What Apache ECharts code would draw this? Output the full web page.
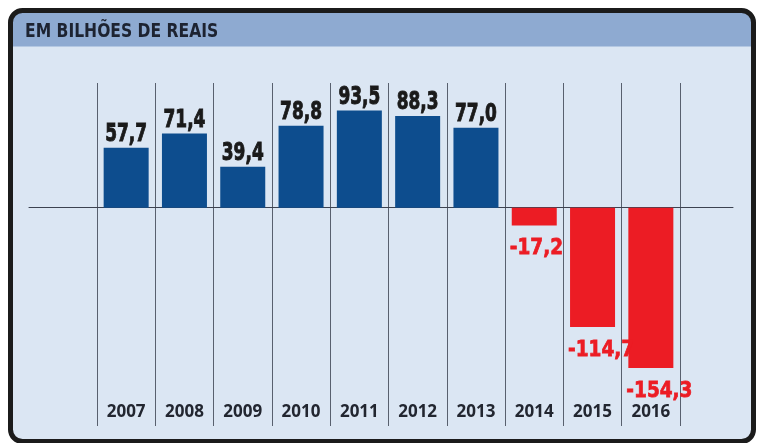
<!DOCTYPE html>
<html>
<head>
<meta charset="utf-8">
<script src="https://cdn.jsdelivr.net/npm/echarts@6/dist/echarts.min.js"></script>
<style>
html,body{margin:0;padding:0;background:#ffffff;}
#chart{width:758px;height:443px;}
</style>
</head>
<body>
<div id="chart"></div>
<script>
const title = 'EM BILHÕES DE REAIS';
const years = ['2007','2008','2009','2010','2011','2012','2013','2014','2015','2016'];
const values = [57.7, 71.4, 39.4, 78.8, 93.5, 88.3, 77.0, -17.2, -114.7, -154.3];

const BLUE = '#0d4d8e';
const RED = '#ec1c24';
const BAR_W = 45;
const fmt = v => v.toFixed(1).replace('.', ',');

const chart = echarts.init(document.getElementById('chart'), null, {renderer: 'canvas'});

const barData = values.map(v => ({value: v, itemStyle: {color: v < 0 ? RED : BLUE}}));
const labelData = values.map((v, i) => [i, v]);

function renderLabel(params, api) {
  const v = api.value(1);
  const pt = api.coord([api.value(0), v]);
  if (v >= 0) {
    return {
      type: 'text', x: pt[0], y: pt[1] - 1, scaleX: 0.68,
      style: {text: fmt(v), fill: '#1a1a1a', stroke: '#1a1a1a', lineWidth: 1,
        align: 'center', verticalAlign: 'bottom',
        font: "bold 25px 'DejaVu Sans', sans-serif"}
    };
  }
  return {
    type: 'text', x: pt[0] - BAR_W / 2 - 2, y: pt[1] + 12, scaleX: 0.84,
    style: {text: fmt(v), fill: RED, stroke: RED, lineWidth: 0.8,
      align: 'left', verticalAlign: 'top',
      font: "bold 22px 'DejaVu Sans', sans-serif"}
  };
}

chart.setOption({
  animation: false,
  backgroundColor: '#ffffff',
  graphic: [
    {type: 'rect', z: -10, silent: true,
      shape: {x: 10.5, y: 10.5, width: 743, height: 431, r: 12},
      style: {fill: '#dbe6f3', stroke: null}},
    {type: 'rect', z: -9, silent: true,
      shape: {x: 10.5, y: 10.5, width: 743, height: 36, r: [12, 12, 0, 0]},
      style: {fill: '#8eaad1'}},
    {type: 'rect', z: 100, silent: true,
      shape: {x: 10.5, y: 10.5, width: 743, height: 431, r: 12},
      style: {fill: null, stroke: '#1b1b1b', lineWidth: 5}},
    {type: 'text', z: 101, silent: true, x: 25, y: 32, scaleX: 0.865,
      style: {text: title, fill: '#1d2331', align: 'left', verticalAlign: 'middle',
        font: "bold 20px 'DejaVu Sans Condensed', 'DejaVu Sans', sans-serif"}}
  ],
  grid: [
    {left: 97, right: 78, top: 83, height: 343},
    {left: 29, right: 25, top: 83, height: 343}
  ],
  xAxis: [
    {type: 'category', gridIndex: 0, data: years, boundaryGap: true,
      axisLine: {show: false, onZero: false},
      axisTick: {show: false},
      splitLine: {show: true, interval: 0, lineStyle: {color: '#58606e', width: 1}},
      axisLabel: {inside: true, margin: 5, interval: 0, color: '#222630',
        fontFamily: "'Open Sans', sans-serif", fontWeight: 'bold', fontSize: 17}},
    {type: 'value', gridIndex: 1, min: 0, max: 1, show: true,
      axisLine: {show: true, onZero: true, lineStyle: {color: '#3c4250', width: 1}},
      axisTick: {show: false}, axisLabel: {show: false}, splitLine: {show: false}}
  ],
  yAxis: [
    {type: 'value', gridIndex: 0, min: -210, max: 120, show: false, splitLine: {show: false}},
    {type: 'value', gridIndex: 1, min: -210, max: 120, show: false, splitLine: {show: false}}
  ],
  series: [
    {type: 'bar', xAxisIndex: 0, yAxisIndex: 0, barWidth: BAR_W, data: barData, z: 2},
    {type: 'custom', xAxisIndex: 0, yAxisIndex: 0, data: labelData, z: 3,
      renderItem: renderLabel, clip: false}
  ]
});
</script>
</body>
</html>
